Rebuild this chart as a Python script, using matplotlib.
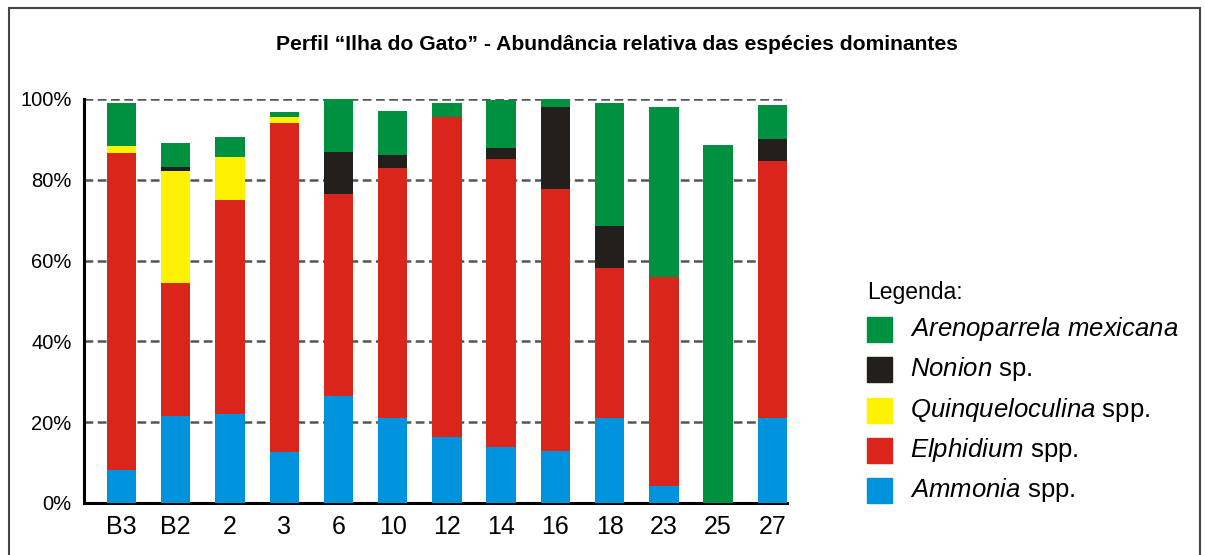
import numpy as np
import matplotlib.pyplot as plt
from matplotlib.patches import Rectangle

plt.rcParams['font.family'] = ['Liberation Sans', 'DejaVu Sans']
plt.rcParams['mathtext.fontset'] = 'custom'
plt.rcParams['mathtext.it'] = 'Liberation Sans:italic'
plt.rcParams['mathtext.rm'] = 'Liberation Sans'

# sample stations along the profile
stations = ['B3', 'B2', '2', '3', '6', '10', '12', '14', '16', '18', '23', '25', '27']

# relative abundance (%) per species
ammonia      = [8.2, 21.5, 22.0, 12.6, 26.4, 21.1, 16.4, 13.9, 12.9, 21.1, 4.1, 0.0, 21.1]
elphidium    = [78.5, 32.9, 53.0, 81.5, 50.1, 61.7, 79.1, 71.2, 64.8, 37.1, 51.8, 0.0, 63.6]
quinqueloc   = [1.7, 27.7, 10.6, 1.4, 0.0, 0.0, 0.0, 0.0, 0.0, 0.0, 0.0, 0.0, 0.0]
nonion       = [0.0, 1.1, 0.0, 0.0, 10.5, 3.3, 0.0, 2.8, 20.4, 10.3, 0.0, 0.0, 5.3]
arenoparrela = [10.6, 5.9, 4.9, 1.3, 13.0, 10.9, 3.5, 11.8, 1.9, 30.5, 42.0, 88.5, 8.5]

series = [ammonia, elphidium, quinqueloc, nonion, arenoparrela]
colors = ['#0093dd', '#da251d', '#fff200', '#231f1c', '#009140']
labels = [r'$\it{Ammonia}$ spp.', r'$\it{Elphidium}$ spp.',
          r'$\it{Quinqueloculina}$ spp.', r'$\it{Nonion}$ sp.',
          r'$\it{Arenoparrela\ mexicana}$']

W, H = 1205, 555
fig = plt.figure(figsize=(W / 100, H / 100), dpi=100)
ax = fig.add_axes([84 / W, 1 - 503 / H, (787 - 84) / W, (503 - 99) / H])

x = np.arange(len(stations))
bottom = np.zeros(len(stations))
for vals, c in zip(series, colors):
    ax.bar(x, vals, width=0.54, bottom=bottom, color=c, zorder=3)
    bottom += np.array(vals)

ax.set_xlim(-0.69, 12.27)
ax.set_ylim(0, 100)
ax.set_yticks([0, 20, 40, 60, 80, 100])
ax.set_yticklabels(['0%', '20%', '40%', '60%', '80%', '100%'], fontsize=14.5)
ax.set_xticks(x)
ax.set_xticklabels(stations, fontsize=18)
ax.tick_params(axis='y', length=0, pad=9)
ax.tick_params(axis='x', length=0, pad=9)
for yv in [20, 40, 60, 80, 100]:
    ax.axhline(yv, color='#555555', lw=1.8, ls=(0, (3.5, 1.8)), zorder=1)
ax.spines['top'].set_visible(False)
ax.spines['right'].set_visible(False)
ax.spines['left'].set_linewidth(2.2)
ax.spines['bottom'].set_linewidth(2.2)

fig.text(617 / W, 1 - 44 / H, 'Perfil \u201cIlha do Gato\u201d - Abund\u00e2ncia relativa das esp\u00e9cies dominantes',
         ha='center', va='center', fontsize=15.2, fontweight='bold')

# legend drawn by hand
fig.text(867 / W, 1 - 292 / H, 'Legenda:', ha='left', va='center', fontsize=16.5)
ys = [490, 450, 410, 369, 329]
for yc, c, lab in zip(ys, colors, labels):
    fig.add_artist(Rectangle((867 / W, 1 - (yc + 12.5) / H), 25 / W, 25 / H,
                             transform=fig.transFigure, color=c))
    fig.text(910 / W, 1 - yc / H, lab, ha='left', va='center', fontsize=18.5)

# outer frame
fig.add_artist(Rectangle((9 / W, -0.1), (1200 - 9) / W, 1.1 - 8 / H,
                         transform=fig.transFigure, fill=False, ec='#444444', lw=1.5))

fig.savefig('out.png', dpi=100)
